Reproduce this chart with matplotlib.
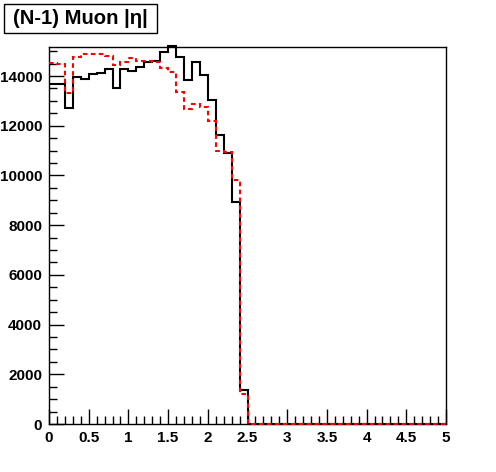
import numpy as np
import matplotlib
matplotlib.use("Agg")
import matplotlib.pyplot as plt
from matplotlib.ticker import MultipleLocator
from matplotlib.patches import Rectangle

bin_edges = np.round(np.arange(0, 5.0001, 0.1), 2)

black_vals = [13665, 13665, 12710, 13970, 13890, 14070, 14130, 14290, 13510, 14270,
              14200, 14350, 14560, 14620, 14975, 15195, 14750, 13840, 14550, 14060,
              13030, 11640, 10900, 8930, 1370] + [0] * 25

red_vals = [14530, 14470, 13330, 14780, 14880, 14880, 14880, 14820, 14440, 14560,
            14740, 14590, 14620, 14560, 14310, 14170, 13370, 12660, 12870, 12760,
            12200, 10970, 10960, 9815, 1200] + [0] * 25

title = "(N-1) Muon |η|"
x_ticks = [0, 0.5, 1, 1.5, 2, 2.5, 3, 3.5, 4, 4.5, 5]
x_ticklabels = ["0", "0.5", "1", "1.5", "2", "2.5", "3", "3.5", "4", "4.5", "5"]
y_ticks = [0, 2000, 4000, 6000, 8000, 10000, 12000, 14000]

plt.rcParams['font.family'] = ['Liberation Sans', 'DejaVu Sans']

W, H = 496, 472
fig = plt.figure(figsize=(W / 100, H / 100), dpi=100)
ax = fig.add_axes([49/W, 48/H, (446-49)/W, (424-46.7)/H])

ax.stairs(black_vals, bin_edges, color='black', linewidth=1.5, baseline=None, clip_on=False, zorder=3)
ax.stairs(red_vals, bin_edges, color='#ff0000', linewidth=1.5, linestyle=(0, (2.2, 1.6)),
          baseline=None, clip_on=False, zorder=4)

ax.set_xlim(0, 5)
ax.set_ylim(0, 15180)

ax.set_xticks(x_ticks)
ax.set_xticklabels(x_ticklabels)
ax.set_yticks(y_ticks)
ax.xaxis.set_minor_locator(MultipleLocator(0.1))
ax.yaxis.set_minor_locator(MultipleLocator(500))

ax.tick_params(axis='both', which='major', direction='in', length=11, width=1, labelsize=11, pad=5)
ax.tick_params(axis='both', which='minor', direction='in', length=6, width=1)
ax.tick_params(top=False, right=False, which='both')
for lab in ax.get_xticklabels() + ax.get_yticklabels():
    lab.set_fontweight('bold')

for s in ax.spines.values():
    s.set_linewidth(1)
    s.set_color('black')

# title box
fig.patches.append(Rectangle((4/W, 1 - 33/H), (157-4)/W, (33-4)/H, transform=fig.transFigure,
                             facecolor='white', edgecolor='black', linewidth=1))
fig.text(13/W, 1 - 19/H, title, fontsize=14.6, fontweight='bold', ha='left', va='center')

fig.savefig('out.png', dpi=100, facecolor='white')
